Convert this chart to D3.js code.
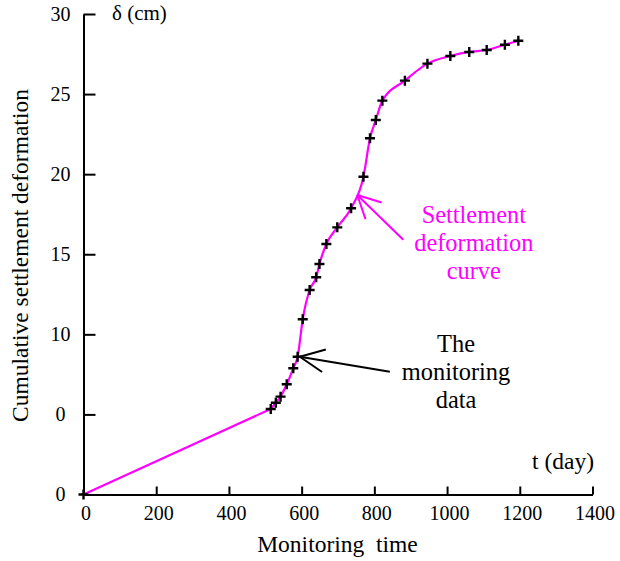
<!DOCTYPE html>
<html>
<head>
<meta charset="utf-8">
<script src="https://cdn.jsdelivr.net/npm/d3@7"></script>
<style>
  body { margin: 0; background: #fff; }
</style>
</head>
<body>
<div id="chart-area"></div>
<script>
// monitoring data (days, cumulative settlement in axis units)
const days = [0, 515, 529, 542, 559, 577, 589, 603, 622, 640, 649, 668, 698, 736, 770, 788, 804, 822, 884, 946, 1009, 1061, 1109, 1159, 1196];
const deformation = [0, 5.34, 5.73, 6.11, 6.88, 7.88, 8.6, 10.94, 12.77, 13.56, 14.39, 15.64, 16.68, 17.87, 19.84, 22.24, 23.38, 24.59, 25.84, 26.9, 27.38, 27.63, 27.75, 28.08, 28.33];

const xTicks = [0, 200, 400, 600, 800, 1000, 1200, 1400];
const yTicks = [0, 5, 10, 15, 20, 25, 30];
const yTickLabels = ["0", "0", "10", "15", "20", "25", "30"];

const curveNote = ["Settlement", "deformation", "curve"];
const dataNote = ["The", "monitoring", "data"];

const serif = "'Liberation Serif', 'Times New Roman', 'DejaVu Serif', serif";

let width = 620, height = 561;
let svg = d3.select("#chart-area")
  .append("svg")
  .attr("width", width)
  .attr("height", height)
  .style("font-family", serif);

let x = d3.scaleLinear().domain([0, 1400]).range([83.5, 592.5]);
let y = d3.scaleLinear().domain([0, 30]).range([494.5, 14]);

let data = days.map((d, i) => ({t: d, v: deformation[i]}));

// ---- axes ----
let xAxis = d3.axisBottom(x)
  .tickValues(xTicks)
  .tickFormat(d3.format("d"))
  .tickSizeInner(-8)
  .tickSizeOuter(0)
  .tickPadding(11);

let yAxis = d3.axisLeft(y)
  .tickValues(yTicks)
  .tickFormat((d, i) => yTickLabels[i])
  .tickSizeInner(-12)
  .tickSizeOuter(0)
  .tickPadding(0);

let xAxisGroup = svg.append("g")
  .attr("transform", "translate(0," + y(0) + ")")
  .call(xAxis);

let yAxisGroup = svg.append("g")
  .attr("transform", "translate(" + x(0) + ",0)")
  .call(yAxis);

[xAxisGroup, yAxisGroup].forEach(g => {
  g.attr("font-family", null).attr("font-size", null);
  g.select(".domain").attr("stroke", "#000").attr("stroke-width", 2);
  g.selectAll(".tick line").attr("stroke", "#000").attr("stroke-width", 2);
  g.selectAll(".tick text")
    .attr("fill", "#000")
    .style("font-family", serif)
    .style("font-size", "20px");
});
xAxisGroup.selectAll(".tick text").attr("dx", "0.1em");
yAxisGroup.selectAll(".tick text")
  .attr("text-anchor", "middle")
  .attr("x", -23);

// axis titles
function label(xp, yp, txt, size, anchor) {
  return svg.append("text")
    .attr("x", xp)
    .attr("y", yp)
    .attr("text-anchor", anchor)
    .style("font-family", serif)
    .style("font-size", size + "px")
    .text(txt);
}

label(0, 0, "Cumulative settlement deformation", 23.5, "middle")
  .attr("transform", "translate(28,255.5) rotate(-90)");
label(337.5, 552, "Monitoring\u00a0\u00a0time", 23.5, "middle");
label(112, 20, "\u03b4 (cm)", 21, "start");
label(594, 469, "t (day)", 23.5, "end");

// ---- curve: straight run to the first reading, then smooth ----
let line = d3.line()
  .x(d => x(d.t))
  .y(d => y(d.v));

svg.append("path")
  .datum(data.slice(0, 2))
  .attr("d", line.curve(d3.curveLinear))
  .attr("fill", "none")
  .attr("stroke", "#ff00ff")
  .attr("stroke-width", 2.2);

svg.append("path")
  .datum(data.slice(1))
  .attr("d", line.curve(d3.curveMonotoneX))
  .attr("fill", "none")
  .attr("stroke", "#ff00ff")
  .attr("stroke-width", 2.2);

// ---- monitoring points ----
svg.selectAll(".pt")
  .data(data)
  .enter()
  .append("path")
  .attr("class", "pt")
  .attr("transform", d => "translate(" + x(d.t) + "," + y(d.v) + ")")
  .attr("d", "M-5,0H5M0,-5V5")
  .attr("stroke", "#000")
  .attr("stroke-width", 2.4);

// ---- annotations ----
function arrow(tipT, tipV, dx, dy, len, spread, color) {
  let tx = x(tipT), ty = y(tipV);
  let ang = Math.atan2(dy, dx);
  let g = svg.append("g").attr("stroke", color).attr("stroke-width", 2).attr("fill", "none");
  g.append("line").attr("x1", tx).attr("y1", ty).attr("x2", tx + dx).attr("y2", ty + dy);
  [-spread, spread].forEach(s => {
    g.append("line")
      .attr("x1", tx).attr("y1", ty)
      .attr("x2", tx + len * Math.cos(ang + s))
      .attr("y2", ty + len * Math.sin(ang + s));
  });
}

arrow(753, 18.7, 46, 44.7, 25.5, 27 * Math.PI / 180, "#ff00ff");
arrow(595, 8.6, 90, 15, 27, 25 * Math.PI / 180, "#000");

curveNote.forEach((d, i) => {
  label(473.8, 222.6 + i * 28.3, d, 24.4, "middle").attr("fill", "#ff00ff");
});
dataNote.forEach((d, i) => {
  label(456, 351.7 + i * 28.3, d, 24.4, "middle").attr("fill", "#000");
});
</script>
</body>
</html>
